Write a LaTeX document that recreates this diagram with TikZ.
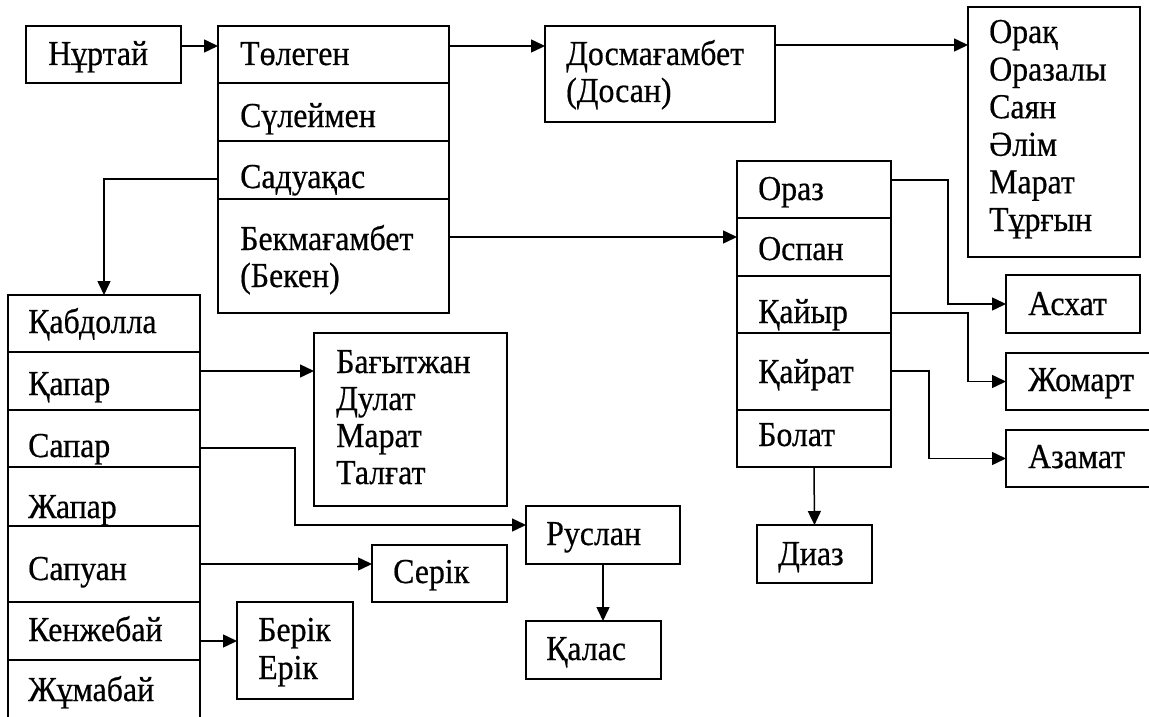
\documentclass[tikz,border=0pt]{standalone}
\usepackage{fontspec}
\setmainfont{Liberation Serif}[FakeStretch=0.91,FakeBold=0.5]
\usetikzlibrary{arrows.meta,calc}
\newcommand\cellbox[5]{%
  \pgfmathsetmacro\cw{#4-#2}\pgfmathsetmacro\ch{#5-#3}%
  \node[cell,minimum width=\cw pt,minimum height=\ch pt,anchor=north west] (#1) at (#2,#3) {};}
\begin{document}
\begin{tikzpicture}[x=1pt,y=-1pt,
  cell/.style={draw,line width=1.2pt,rectangle,inner sep=0pt,outer sep=0pt},
  lbl/.style={anchor=base west,inner sep=0pt,font=\fontsize{35}{37.6}\selectfont},
  conn/.style={line width=1.5pt,-{Triangle[length=14pt,width=13pt]}}]
\clip (0,0) rectangle (1149,717);
\fill[white] (0,0) rectangle (1149,717);
% boxes
\cellbox{nurtai}{26}{26}{181}{83}
\cellbox{tolegen}{218}{26}{449}{83}
\cellbox{suleimen}{218}{83}{449}{141}
\cellbox{saduakas}{218}{141}{449}{199}
\cellbox{bek}{218}{199}{449}{313}
\cellbox{dos}{545}{26}{775}{122}
\cellbox{orak}{968}{7}{1140}{257}
\cellbox{oraz}{737}{161}{891}{218}
\cellbox{ospan}{737}{218}{891}{276}
\cellbox{kaiyr}{737}{276}{891}{333}
\cellbox{kairat}{737}{333}{891}{410}
\cellbox{bolat}{737}{410}{891}{467}
\cellbox{askhat}{1006}{275}{1140}{333}
\cellbox{zhomart}{1006}{353}{1170}{410}
\cellbox{azamat}{1006}{430}{1170}{487}
\cellbox{diaz}{757}{525}{872}{583}
\cellbox{kabdolla}{8}{295}{200}{352}
\cellbox{kapar}{8}{352}{200}{410}
\cellbox{sapar}{8}{410}{200}{467}
\cellbox{zhapar}{8}{467}{200}{526}
\cellbox{sapuan}{8}{526}{200}{602}
\cellbox{kenzhe}{8}{602}{200}{660}
\cellbox{zhumabai}{8}{660}{200}{740}
\cellbox{bagyt}{314}{333}{507}{506}
\cellbox{ruslan}{526}{506}{680}{564}
\cellbox{serik}{372}{545}{507}{602}
\cellbox{berik}{237}{602}{353}{699}
\cellbox{kalas}{526}{621}{661}{679}
% labels
\node[lbl] (t1) at (48,65) {Нұртай};
\node[lbl] (t2) at (240,65) {Төлеген};
\node[lbl] (t3) at (240,127) {Сүлеймен};
\node[lbl] (t4) at (240,188) {Садуақас};
\node[lbl] (t5) at (240,250) {Бекмағамбет};
\node[lbl] (t6) at (240,287) {(Бекен)};
\node[lbl] (t7) at (566,65) {Досмағамбет};
\node[lbl] (t8) at (566,102) {(Досан)};
\foreach \w [count=\i] in {Орақ,Оразалы,Саян,Әлім,Марат,Тұрғын}
  \node[lbl] (r\i) at (989,{43+37.6*(\i-1)}) {\w};
\node[lbl] (o1) at (758,200) {Ораз};
\node[lbl] (o2) at (758,260) {Оспан};
\node[lbl] (o3) at (758,323) {Қайыр};
\node[lbl] (o4) at (758,383) {Қайрат};
\node[lbl] (o5) at (758,446) {Болат};
\node[lbl] (a1) at (1028,315) {Асхат};
\node[lbl] (a2) at (1028,391) {Жомарт};
\node[lbl] (a3) at (1028,468) {Азамат};
\node[lbl] (d1) at (778,565) {Диаз};
\node[lbl] (k1) at (28,333) {Қабдолла};
\node[lbl] (k2) at (28,395) {Қапар};
\node[lbl] (k3) at (28,457) {Сапар};
\node[lbl] (k4) at (28,518) {Жапар};
\node[lbl] (k5) at (28,580) {Сапуан};
\node[lbl] (k6) at (28,641) {Кенжебай};
\node[lbl] (k7) at (28,701) {Жұмабай};
\foreach \w [count=\i] in {Бағытжан,Дулат,Марат,Талғат}
  \node[lbl] (b\i) at (336,{373+37*(\i-1)}) {\w};
\node[lbl] (s1) at (393,583) {Серік};
\node[lbl] (s2) at (258,641) {Берік};
\node[lbl] (s3) at (258,679) {Ерік};
\node[lbl] (s4) at (546,545) {Руслан};
\node[lbl] (s5) at (546,660) {Қалас};
% connectors
\draw[conn] (nurtai.east |- 0,46) -- (tolegen.west |- 0,46);
\draw[conn] (tolegen.east |- 0,46) -- (dos.west |- 0,46);
\draw[conn] (dos.east |- 0,45) -- (orak.west |- 0,45);
\draw[conn] (saduakas.west |- 0,179) -| (kabdolla.north);
\draw[conn] (bek.east |- 0,237) -- (ospan.west |- 0,237);
\draw[conn] (oraz.east |- 0,180) -- (948,180) |- (askhat.west);
\draw[conn] (kaiyr.east |- 0,313) -- (968,313) |- (zhomart.west);
\draw[conn] (kairat.east |- 0,371) -- (929,371) |- (azamat.west);
\draw[conn] (bolat.south) -- (diaz.north);
\draw[conn] (kapar.east |- 0,371) -- (bagyt.west |- 0,371);
\draw[conn] (sapar.east |- 0,448) -- (295,448) |- (ruslan.west |- 0,525);
\draw[conn] (sapuan.east |- 0,564) -- (serik.west |- 0,564);
\draw[conn] (kenzhe.east |- 0,641) -- (berik.west |- 0,641);
\draw[conn] (ruslan.south) -- (ruslan.south |- kalas.north);
\end{tikzpicture}
\end{document}
